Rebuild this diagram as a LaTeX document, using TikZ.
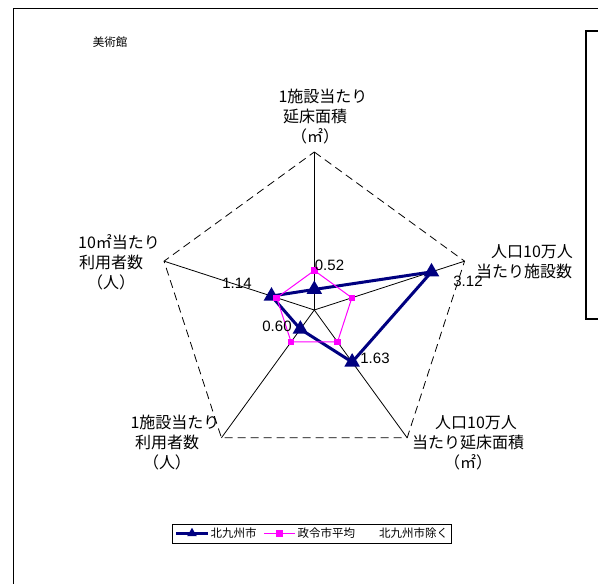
\documentclass[tikz,border=0pt]{standalone}
\usepackage{fontspec}
\setmainfont{Liberation Sans}
\newfontfamily\jp{Noto Sans CJK JP}
\usetikzlibrary{shapes.geometric}
\definecolor{kitablue}{RGB}{0,0,128}
\definecolor{avgpink}{RGB}{255,0,255}

\begin{document}
\begin{tikzpicture}[
        x=1pt, y=1pt,
        axis/.style={black, line width=0.8pt},
        rim/.style={black, line width=0.8pt, dash pattern=on 8pt off 5pt},
        axlabel/.style={font=\jp\fontsize{16}{20}\selectfont, align=center, inner sep=0pt},
        value/.style={font=\fontsize{15}{17}\selectfont, inner sep=0pt},
        legtext/.style={font=\jp\fontsize{11.5}{14}\selectfont, anchor=west, inner sep=0pt},
        kita/.style={draw=kitablue, line width=3pt, line join=round},
        avg/.style={draw=avgpink, line width=1pt},
        kmark/.style={regular polygon, regular polygon sides=3, fill=kitablue, minimum size=18pt, inner sep=0pt},
        amark/.style={rectangle, fill=avgpink, minimum size=6.5pt, inner sep=0pt}
    ]
        \useasboundingbox (0,0) rectangle (598,584);
        \clip (0,0) rectangle (598,584);
        % chart area and plot frame
        \draw[line width=1pt] (13,-10) rectangle (620,575);
        \draw[line width=1.3pt] (586,265) rectangle (620,553);
        \node[font=\jp\fontsize{11.5}{14}\selectfont] (title) at (110,542) {美術館};

        % axes and outer ring
        \coordinate (O) at (314.3,274);
        \foreach \i/\a in {1/90,2/18,3/-54,4/-126,5/162}
        {
            \coordinate (v\i) at ([shift={(\a:158)}]O);
            \draw[axis] (O) -- (v\i);
        }
        \draw[rim] (v1) -- (v2) -- (v3) -- (v4) -- (v5) -- cycle;

        % axis labels
        \node[axlabel] (top) at (315,467) {\hspace*{16pt}1施設当たり\\延床面積\\（㎡）};
        \node[axlabel] (upright) at (524,322) {\hspace*{16pt}人口10万人\\当たり施設数};
        \node[axlabel] (lowright) at (468,141) {\hspace*{16pt}人口10万人\\当たり延床面積\\（㎡）};
        \node[axlabel] (lowleft) at (167,141) {\hspace*{16pt}1施設当たり\\利用者数\\（人）};
        \node[axlabel] (upleft) at (111,322) {\hspace*{16pt}10㎡当たり\\利用者数\\（人）};

        % data points
        \foreach \i/\a/\k in {1/90/0.52,2/18/3.12,3/-54/1.63,4/-126/0.60,5/162/1.14}
        {
            \coordinate (k\i) at ([shift={(\a:\k*39.5)}]O);
            \coordinate (a\i) at ([shift={(\a:39.5)}]O);
        }
        \draw[kita] (k1) -- (k2) -- (k3) -- (k4) -- (k5) -- cycle;
        \foreach \i in {1,...,5}
            \node[kmark] (km\i) at (k\i) {};
        \draw[avg] (a1) -- (a2) -- (a3) -- (a4) -- (a5) -- cycle;
        \foreach \i in {1,...,5}
            \node[amark] (am\i) at (a\i) {};

        % value labels
        \node[value] (val1) at (329.5,319) {0.52};
        \node[value] (val2) at (468,302.3) {3.12};
        \node[value] (val3) at (375,225.7) {1.63};
        \node[value] (val4) at (277,257.3) {0.60};
        \node[value] (val5) at (237,300.7) {1.14};

        % legend
        \draw[line width=1pt] (172.3,40) rectangle (451.7,59.7);
        \coordinate (lk1) at (176,50.7);
        \coordinate (lk2) at (208,50.7);
        \draw[kita] (lk1) -- (lk2);
        \node[kmark, minimum size=11pt] (lkm) at (192,50.7) {};
        \node[legtext] (leg1) at (210.5,50.7) {北九州市};
        \coordinate (la1) at (264,50.7);
        \coordinate (la2) at (295,50.7);
        \draw[avg] (la1) -- (la2);
        \node[amark] (lam) at (279.5,50.7) {};
        \node[legtext] (leg2) at (297.5,50.7) {政令市平均};
        \node[legtext] (leg3) at (379,50.7) {北九州市除く};
    \end{tikzpicture}
\end{document}
